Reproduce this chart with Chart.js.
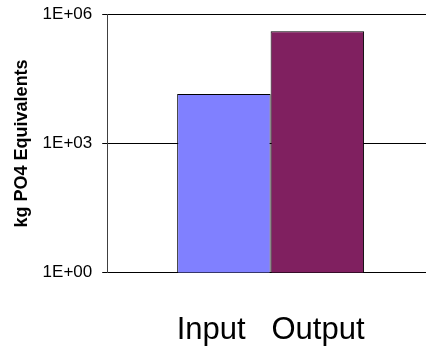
<!DOCTYPE html>
<html>
<head>
<meta charset="utf-8">
<script src="https://cdn.jsdelivr.net/npm/chart.js@4/dist/chart.umd.min.js"></script>
<style>
  body { margin: 0; background: #fff; overflow: hidden; }
  /* plot area runs a little past the right edge of the window */
  #wrap { width: 426px; height: 350px; overflow: hidden; }
</style>
</head>
<body>
<div id="wrap"><canvas id="chart" width="434" height="350"></canvas></div>
<script>
// one category, two series side by side
const categories = ['Input   Output'];
const seriesNames = ['Input', 'Output'];
const inputValues = [14000];
const outputValues = [400000];
const seriesColors = ['#8080FF', '#802060'];
const yTicks = [1, 1000, 1000000];

// 1000 -> "1E+03"
function sciLabel(v) {
  const exp = Math.round(Math.log10(v));
  const mant = v / Math.pow(10, exp);
  return mant.toFixed(0) + 'E+' + String(exp).padStart(2, '0');
}

const font = "'Liberation Sans', Arial, sans-serif";

new Chart(document.getElementById('chart'), {
  type: 'bar',
  data: {
    labels: categories,
    datasets: [
      { label: seriesNames[0], data: inputValues, backgroundColor: seriesColors[0] },
      { label: seriesNames[1], data: outputValues, backgroundColor: seriesColors[1] }
    ]
  },
  options: {
    responsive: false,
    animation: false,
    layout: { padding: { top: 14, left: 0, right: 0, bottom: 0 } },
    datasets: {
      bar: {
        borderColor: '#000',
        borderWidth: 1,
        categoryPercentage: 0.572,
        barPercentage: 1
      }
    },
    plugins: {
      legend: { display: false },
      tooltip: { enabled: false }
    },
    scales: {
      x: {
        grid: { display: false, drawTicks: false },
        border: { color: '#000', width: 1 },
        ticks: { display: false },
        // category name shown under the axis, like the spreadsheet label
        title: {
          display: true,
          text: categories[0],
          color: '#000',
          padding: { top: 39.5, bottom: 0.5 },
          font: { family: font, size: 31 }
        }
      },
      y: {
        type: 'logarithmic',
        min: 1,
        max: 1000000,
        afterBuildTicks: axis => {
          axis.ticks = yTicks.map(v => ({ value: v }));
        },
        grid: { color: '#000', lineWidth: 1, tickLength: 5, tickColor: '#000' },
        border: { color: '#404040', width: 1 },
        ticks: {
          padding: 10,
          color: '#000',
          font: { family: font, size: 17, lineHeight: 0.4 },
          callback: v => sciLabel(v)
        },
        title: {
          display: true,
          text: 'kg PO4 Equivalents',
          color: '#000',
          padding: { top: 11, bottom: 0 },
          font: { family: font, size: 18, weight: 'bold' }
        }
      }
    }
  }
});
</script>
</body>
</html>
